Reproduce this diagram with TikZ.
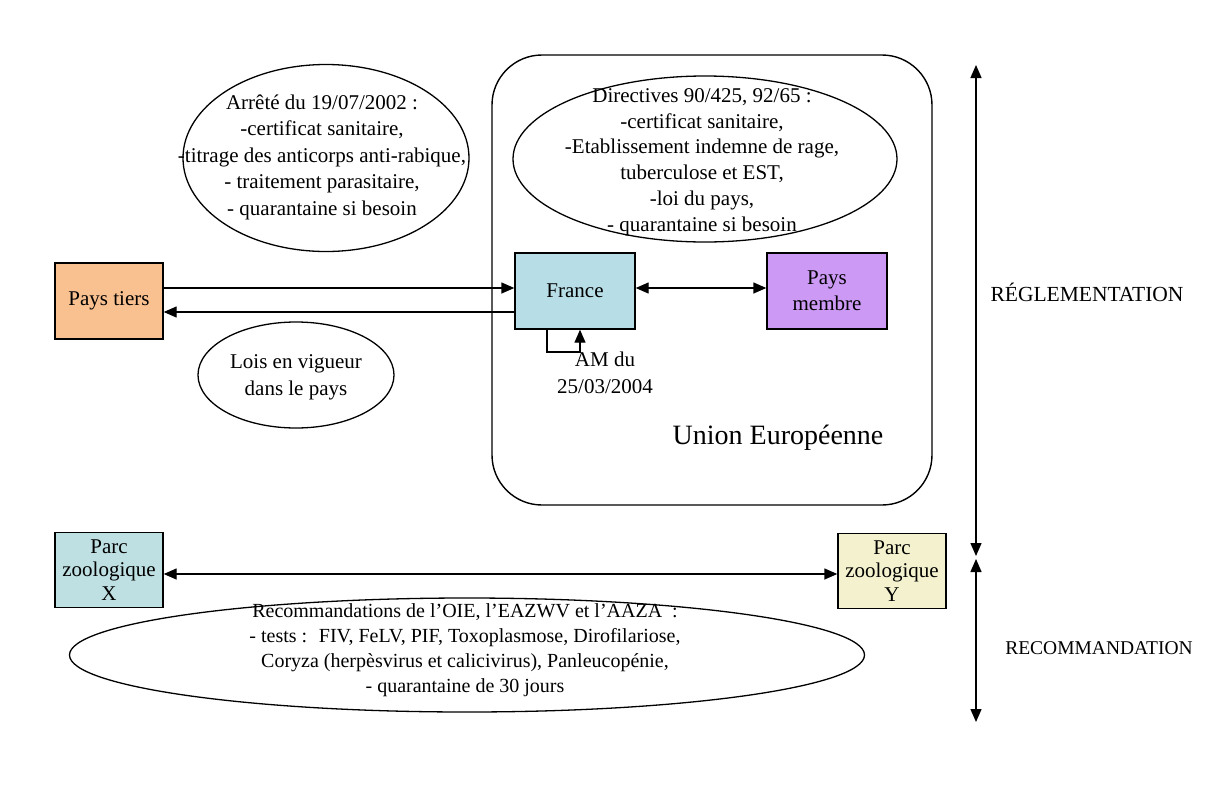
\documentclass[tikz,border=0pt]{standalone}
\usepackage{fontspec}
\setmainfont{Liberation Serif}
\usetikzlibrary{arrows.meta,shapes.geometric}
\definecolor{orangebox}{HTML}{F9C090}
\definecolor{aquabox}{HTML}{B7DDE6}
\definecolor{lavbox}{HTML}{CC99F5}
\definecolor{aquabox2}{HTML}{BFE0E2}
\definecolor{yellbox}{HTML}{F4F2CE}
\tikzset{
  box/.style={draw, line width=1.4pt, inner sep=0pt, align=center,
    font=\fontsize{21}{26}\selectfont},
  oval/.style={draw, ellipse, line width=1.3pt, inner sep=0pt},
  txt/.style={align=center, inner sep=0pt, font=\fontsize{21}{26.5}\selectfont},
  arr/.style={line width=1.4pt, -{Triangle[length=13pt,width=11pt]}},
  darr/.style={line width=1.4pt, {Triangle[length=13pt,width=11pt]}-{Triangle[length=13pt,width=11pt]}}
}
\begin{document}
\begin{tikzpicture}[x=1pt,y=-1pt]
\useasboundingbox[fill=white] (0,0) rectangle (1219,809);

% European Union frame
\draw[line width=1.4pt, rounded corners=50pt] (492,55) rectangle (932,505);
\node[txt, font=\fontsize{28}{32}\selectfont] (ue) at (778,438) {Union Européenne};

% ellipses
\node[oval, minimum width=286pt, minimum height=187pt] (e1) at (326,158) {};
\node[txt] (e1t) at (322,157) {Arrêté du 19/07/2002 :\\-certificat sanitaire,\\-titrage des anticorps anti-rabique,\\- traitement parasitaire,\\- quarantaine si besoin};

\node[oval, minimum width=384pt, minimum height=166pt] (e2) at (705,159) {};
\node[txt, font=\fontsize{21}{25.8}\selectfont] (e2t) at (702,162) {Directives 90/425, 92/65 :\\-certificat sanitaire,\\-Etablissement indemne de rage,\\tuberculose et EST,\\-loi du pays,\\- quarantaine si besoin};

\node[oval, minimum width=196pt, minimum height=106pt] (e3) at (296,375) {};
\node[txt, font=\fontsize{21}{27}\selectfont] (e3t) at (296,377) {Lois en vigueur\\dans le pays};

\node[oval, minimum width=795pt, minimum height=114pt] (e4) at (467,655) {};
\node[txt, font=\fontsize{20}{25}\selectfont] (e4t) at (465,650) {Recommandations de l’OIE, l’EAZWV et l’AAZA~ :\\- tests :~ FIV, FeLV, PIF, Toxoplasmose, Dirofilariose,\\Coryza (herpèsvirus et calicivirus), Panleucopénie,\\- quarantaine de 30 jours};

% boxes
\node[box, fill=orangebox, minimum width=108pt, minimum height=76pt] (pt) at (109,301) {Pays tiers};
\node[box, fill=aquabox, minimum width=120pt, minimum height=76pt] (fr) at (575,291) {France};
\node[box, fill=lavbox, minimum width=120pt, minimum height=76pt] (pm) at (827,291) {Pays\\membre};
\node[box, fill=aquabox2, minimum width=108pt, minimum height=75pt, font=\fontsize{21}{23.5}\selectfont] (px) at (109,570) {Parc\\zoologique\\X};
\node[box, fill=yellbox, minimum width=108pt, minimum height=75pt, font=\fontsize{21}{23.5}\selectfont] (py) at (892,571) {Parc\\zoologique\\Y};

% connectors
\draw[arr] (pt.east |- 0,288) -- (fr.west |- 0,288);
\draw[arr] (fr.west |- 0,312) -- (pt.east |- 0,312);
\draw[darr] (fr.east |- 0,288) -- (pm.west |- 0,288);
\draw[arr] (fr.south -| 547,0) |- (580,352) -- (fr.south -| 580,0);
\node[txt] (am) at (605,373) {AM du\\25/03/2004};
\draw[darr] (px.east |- 0,574) -- (py.west |- 0,574);

% right scale
\coordinate (s1) at (976,65);
\coordinate (s2) at (976,556);
\coordinate (s3) at (976,559);
\coordinate (s4) at (976,722);
\draw[darr] (s1) -- (s2);
\draw[darr] (s3) -- (s4);
\node[txt, font=\fontsize{21.5}{26}\selectfont] (reg) at (1087,292) {RÉGLEMENTATION};
\node[txt, font=\fontsize{19.5}{24}\selectfont] (rec) at (1099,648) {RECOMMANDATION};
\end{tikzpicture}
\end{document}
